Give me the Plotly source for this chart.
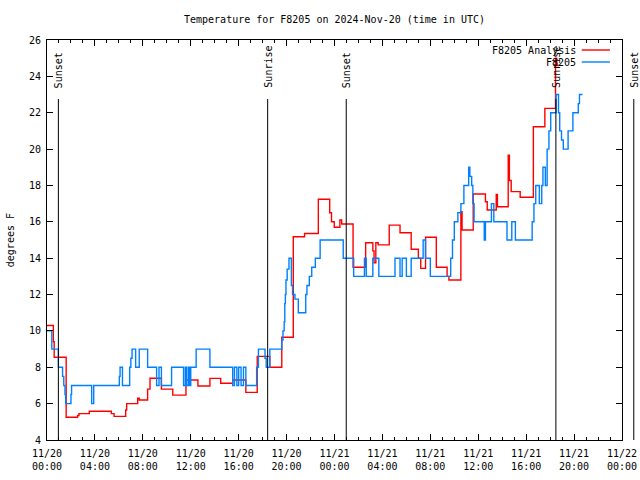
import plotly.graph_objects as go
import pandas as pd

BASE = pd.Timestamp("2024-11-20 00:00")

# F8205 observations (hours since 11/20 00:00 UTC, degrees F)
obs_hours = [0.0, 0.4, 0.95, 1.3, 1.4, 1.5, 1.56, 2.0, 2.05, 3.73, 3.9, 6.04, 6.1, 6.3, 6.9, 7.0,
             7.1, 7.4, 7.7, 8.4, 9.15, 9.35, 9.55, 10.4, 11.4, 11.55, 11.65, 11.8, 11.9, 12.0,
             12.45, 13.6, 15.5, 15.65, 15.85, 16.0, 16.2, 16.4, 16.6, 17.5, 17.65, 18.2, 18.3,
             18.6, 19.6, 19.7, 19.8, 19.85, 19.9, 19.95, 20.05, 20.2, 20.4, 20.5, 20.7, 20.98,
             21.6, 21.7, 21.9, 22.1, 22.4, 22.8, 24.73, 25.6, 26.5, 26.65, 27.2, 27.7, 29.05,
             29.47, 29.65, 30.0, 30.4, 31.4, 31.6, 32.0, 33.7, 33.85, 34.0, 34.3, 34.55, 34.8,
             35.2, 35.3, 35.45, 35.55, 35.65, 36.5, 36.6, 37.1, 37.3, 38.4, 38.8, 39.1, 40.5,
             40.65, 40.8, 41.1, 41.3, 41.4, 41.6, 41.75, 41.9, 42.05, 42.5, 42.7, 42.8, 42.95,
             43.1, 43.5, 43.9, 44.35, 44.45, 44.7]
obs_temps = [10, 9, 8, 7.5, 7, 6.5, 6, 6.5, 7, 6, 7, 7.5, 8, 7, 8, 8.5,
             9, 8, 9, 8, 7, 8, 7, 8, 7, 8, 7, 8, 7, 8,
             9, 8, 7, 8, 7, 8, 7, 8, 7, 8, 9, 8.5, 8,
             9, 9.5, 10, 10.5, 11.5, 12, 12.8, 13.4, 14, 12.5, 12, 11.75, 11,
             12, 12.5, 13, 13.5, 14, 15, 14, 13, 14, 13, 14, 13, 14,
             13, 14, 13, 14, 15, 14, 13, 14, 15, 16, 16.5, 17, 18,
             19, 18.5, 18, 17, 16, 15, 16, 17, 16, 15, 16, 15, 16,
             17, 18, 17, 18, 19, 18, 20, 21, 22, 23, 22, 21, 20.5,
             20, 21, 22, 22.5, 23, 23]

# F8205 Analysis
ana_hours = [0.0, 0.53, 0.6, 1.6, 2.55, 2.67, 3.53, 5.37, 5.6, 6.57, 6.65, 7.57, 7.7, 8.4, 8.6,
             9.55, 10.5, 11.6, 12.6, 13.6, 14.5, 15.5, 16.6, 17.55, 18.6, 19.6, 20.56, 21.5,
             22.65, 23.6, 23.75, 23.98, 24.45, 24.6, 25.55, 26.6, 27.2, 27.3, 27.45, 27.65,
             28.57, 29.47, 30.4, 31.0, 31.2, 31.6, 32.5, 33.4, 33.55, 34.55, 34.65, 35.58,
             36.6, 36.75, 37.5, 37.6, 38.5, 38.6, 38.75, 39.5, 40.6, 41.56, 42.45, 42.55, 42.75]
ana_temps = [10.3, 9.4, 8.55, 5.25, 5.35, 5.45, 5.58, 5.45, 5.3, 5.65, 6.0, 6.3, 6.2, 6.8, 7.4,
             6.8, 6.47, 7.3, 6.97, 7.39, 7.12, 7.3, 6.62, 8.6, 8.0, 9.65, 15.18, 15.36,
             17.24, 16.5, 16.0, 15.7, 16.1, 15.88, 13.5, 14.85, 14.4, 13.75, 14.85, 14.73,
             15.82, 15.4, 14.49, 14.0, 13.44, 15.15, 13.5, 13.0, 12.8, 16.56, 15.55, 17.53,
             17.1, 16.65, 17.5, 16.83, 19.67, 18.27, 17.66, 17.35, 21.23, 22.24, 25.0, 24.6, 24.6]

# Sun events (hours since 11/20 00:00 UTC)
event_hours = [0.95, 18.42, 24.98, 42.48]
event_names = ["Sunset", "Sunrise", "Sunset", "Sunrise"]
offplot_event_name = "Sunset"

series_names = ["F8205 Analysis", "F8205"]
series_colors = ["#ff0000", "#0080ff"]

def to_time(hours):
    return BASE + pd.to_timedelta(hours, unit="h")

FONT = "DejaVu Sans Mono"

fig = go.Figure()
fig.add_trace(go.Scatter(x=to_time(ana_hours), y=ana_temps, mode="lines", line_shape="hv",
                         line=dict(color=series_colors[0], width=1.4), name=series_names[0],
                         showlegend=False))
fig.add_trace(go.Scatter(x=to_time(obs_hours), y=obs_temps, mode="lines", line_shape="hv",
                         line=dict(color=series_colors[1], width=1.4), name=series_names[1],
                         showlegend=False))

shapes = []
annotations = []
for h, name in zip(event_hours, event_names):
    t = to_time(h)
    shapes.append(dict(type="line", xref="x", yref="paper", x0=t, x1=t, y0=0, y1=0.8525,
                       line=dict(color="black", width=1)))
    annotations.append(dict(x=t, xref="x", y=0.875, yref="paper", text=name, textangle=-90,
                            showarrow=False, xanchor="center", yanchor="bottom",
                            font=dict(family=FONT, size=10, color="black")))
# event just past the right edge
shapes.append(dict(type="line", xref="paper", yref="paper", x0=1.0205, x1=1.0205, y0=0, y1=0.8525,
                   line=dict(color="black", width=1)))
annotations.append(dict(x=1.0205, xref="paper", y=0.875, yref="paper", text=offplot_event_name,
                        textangle=-90, showarrow=False, xanchor="center", yanchor="bottom",
                        font=dict(family=FONT, size=10, color="black")))

# legend drawn like gnuplot's (text right-aligned, sample to the right)
leg_y = [0.975, 0.945]
for name, color, y in zip(series_names, series_colors, leg_y):
    annotations.append(dict(x=0.924, xref="paper", y=y, yref="paper", text=name,
                            showarrow=False, xanchor="right", yanchor="middle",
                            font=dict(family=FONT, size=10, color="black")))
    shapes.append(dict(type="line", xref="paper", yref="paper", x0=0.930, x1=0.979, y0=y, y1=y,
                       line=dict(color=color, width=1.4)))

# y-axis title as text, like gnuplot's rotated label
annotations.append(dict(x=-0.064, xref="paper", y=0.5, yref="paper", text="degrees F",
                        textangle=-90, showarrow=False, xanchor="center", yanchor="middle",
                        font=dict(family=FONT, size=10, color="black")))

fig.update_layout(
    width=640, height=480,
    margin=dict(l=47, r=18, t=40, b=40, autoexpand=False),
    paper_bgcolor="white", plot_bgcolor="white",
    font=dict(family=FONT, size=10, color="black"),
    title=dict(text="Temperature for F8205 on 2024-Nov-20 (time in UTC)", x=0.5, xref="paper",
               y=1 - 19 / 480, yref="container", xanchor="center", yanchor="middle",
               font=dict(family=FONT, size=10, color="black")),
    shapes=shapes, annotations=annotations,
    showlegend=False,
)
fig.update_xaxes(
    type="date", range=[BASE, to_time(48)], dtick=4 * 3600000, tick0=BASE,
    tickformat="%m/%d<br>%H:%M", ticks="inside", ticklen=6, tickcolor="black",
    showline=True, linecolor="black", linewidth=1, mirror="ticks", showgrid=False, zeroline=False,
    minor=dict(dtick=3600000, ticks="inside", ticklen=3, tickcolor="black", showgrid=False),
    tickfont=dict(family=FONT, size=10, color="black"), automargin=False,
    ticklabelstandoff=4,
)
fig.update_yaxes(
    range=[4, 26], dtick=2, ticks="inside", ticklen=6, tickcolor="black",
    showline=True, linecolor="black", linewidth=1, mirror="ticks", showgrid=False, zeroline=False,
    tickfont=dict(family=FONT, size=10, color="black"), automargin=False,
    ticklabelstandoff=3,
)

fig.write_html("out.html", config={"displayModeBar": False},
               post_script="document.body.style.margin='0px';document.body.style.overflow='hidden';")
